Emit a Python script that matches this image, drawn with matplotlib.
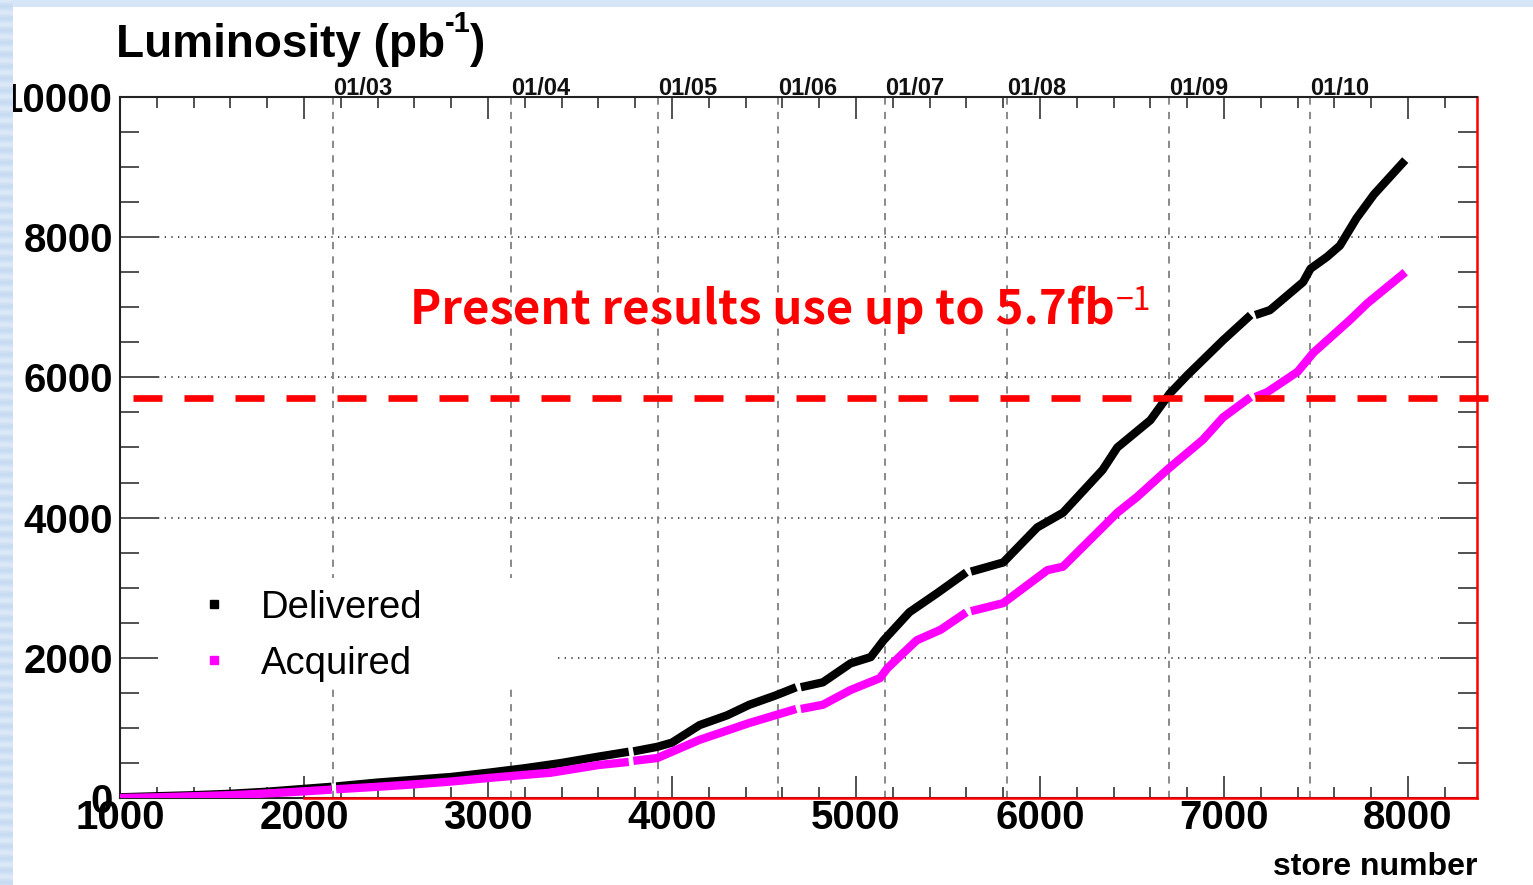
import numpy as np
import matplotlib
matplotlib.use("Agg")
import matplotlib.pyplot as plt
from matplotlib.ticker import MultipleLocator
from matplotlib.patches import Rectangle
from matplotlib.lines import Line2D

nan = np.nan

# Cumulative integrated luminosity (pb^-1) versus store number; nan marks shutdowns
delivered_store = [1000, 1200, 1400, 1600, 1800, 2000, 2150, 2162, 2175, 2400,
                   2600, 2800, 3000, 3200, 3400, 3600, 3765, 3778, 3790, 3920,
                   4000, 4150, 4300, 4420, 4560, 4675, 4688, 4700, 4820, 4970,
                   5080, 5150, 5290, 5440, 5600, 5613, 5625, 5800, 5985, 6125,
                   6340, 6420, 6600, 6705, 6800, 6995, 7145, 7157, 7170, 7250,
                   7430, 7470, 7560, 7630, 7720, 7815, 7985]
delivered_lumi = [10, 25, 40, 60, 90, 130, 160, nan, 165, 220,
                  260, 300, 360, 425, 500, 590, 660, nan, 665, 730,
                  790, 1040, 1180, 1330, 1460, 1580, nan, 1580, 1650, 1920,
                  2010, 2250, 2650, 2920, 3220, nan, 3230, 3360, 3860, 4070,
                  4680, 5000, 5390, 5770, 6030, 6530, 6890, nan, 6890, 6960,
                  7360, 7550, 7720, 7880, 8270, 8610, 9100]

acquired_store = [1000, 1200, 1400, 1600, 1800, 2000, 2150, 2162, 2175, 2400,
                  2600, 2800, 3000, 3200, 3340, 3600, 3765, 3778, 3790, 3920,
                  4150, 4420, 4675, 4688, 4700, 4820, 4970, 5130, 5170, 5330,
                  5460, 5600, 5613, 5625, 5800, 6040, 6125, 6420, 6530, 6690,
                  6885, 6995, 7145, 7157, 7170, 7235, 7400, 7485, 7685, 7780,
                  7985]
acquired_lumi = [0, 10, 25, 40, 65, 95, 120, nan, 125, 160,
                 195, 235, 285, 330, 360, 470, 515, nan, 530, 570,
                 830, 1070, 1270, nan, 1270, 1330, 1540, 1710, 1850, 2250,
                 2400, 2650, nan, 2665, 2780, 3250, 3300, 4070, 4300, 4680,
                 5110, 5430, 5720, nan, 5720, 5790, 6080, 6350, 6820, 7060,
                 7500]

# First store of each calendar year
year_store = [2160, 3125, 3925, 4575, 5160, 5820, 6700, 7470]
year_label = ["01/03", "01/04", "01/05", "01/06", "01/07", "01/08", "01/09", "01/10"]

used_lumi = 5700  # pb^-1 used by the present results
series_label = ["Delivered", "Acquired"]

W, H = 1533, 885
def fx(px):
    return px / W
def fy(py):
    return 1 - py / H

fig = plt.figure(figsize=(W / 100, H / 100), dpi=100)
fig.patch.set_facecolor("white")
ax = fig.add_axes([fx(120), fy(798), fx(1477) - fx(120), fy(97) - fy(798)])

ax.set_xlim(1000, 8375)
ax.set_ylim(0, 10000)

# frame and ticks
for side in ["left", "top", "bottom"]:
    ax.spines[side].set_color("#222222")
    ax.spines[side].set_linewidth(1.5)
ax.spines["right"].set_color("red")
ax.spines["right"].set_linewidth(1.8)

ax.xaxis.set_major_locator(MultipleLocator(1000))
ax.xaxis.set_minor_locator(MultipleLocator(200))
ax.yaxis.set_major_locator(MultipleLocator(2000))
ax.yaxis.set_minor_locator(MultipleLocator(500))
ax.tick_params(which="both", direction="in", top=True, right=True,
               color="#222222", width=1.1)
ax.tick_params(axis="x", which="major", length=16, pad=1)
ax.tick_params(axis="x", which="minor", length=8)
ax.tick_params(axis="y", which="major", length=27, pad=5.2)
ax.tick_params(axis="y", which="minor", length=14)
for lab in ax.get_xticklabels() + ax.get_yticklabels():
    lab.set_fontfamily("Liberation Sans")
    lab.set_fontweight("bold")
    lab.set_fontsize(29)

# grid: dotted horizontals at major y, dashed verticals at new years
for yv in [2000, 4000, 6000, 8000, 10000]:
    ax.axhline(yv, xmin=0.028, xmax=0.972, color="#333333", lw=1.2,
               ls=(0, (0.8, 3.2)), zorder=1)
for xs, lab in zip(year_store, year_label):
    ax.axvline(xs, color="#808080", lw=1.3, ls=(0, (4, 4)), zorder=1)
    ax.annotate(lab, xy=(xs, 1.0), xycoords=("data", "axes fraction"),
                xytext=(0, 1.5), textcoords="offset points",
                ha="left", va="baseline", fontsize=17,
                family="Liberation Sans", weight="bold", color="#111111")

# red frame segment along the bottom
ax.plot([0.1356, 1.0], [0, 0], transform=ax.transAxes, color="red",
        lw=1.8, clip_on=False, zorder=2.6)

# white legend box covering the grid
ax.add_patch(Rectangle((fx(158), fy(686)), fx(553) - fx(158), fy(578) - fy(686),
                       transform=fig.transFigure, facecolor="white",
                       edgecolor="none", zorder=1.6))

# data
ax.plot(delivered_store, delivered_lumi, color="black", lw=6,
        solid_capstyle="butt", solid_joinstyle="round", zorder=3)
ax.plot(acquired_store, acquired_lumi, color="#ff00ff", lw=6,
        solid_capstyle="butt", solid_joinstyle="round", zorder=4)

# threshold line
ax.axhline(used_lumi, xmin=0.0096, xmax=1.0147, color="red", lw=4.8,
           ls=(0, (4.35, 3.3)), clip_on=False, zorder=5)

# legend
for (py, col, lab) in [(604, "black", series_label[0]), (660, "#ff00ff", series_label[1])]:
    fig.add_artist(Line2D([fx(214)], [fy(py)], transform=fig.transFigure,
                          marker="s", markersize=6, color=col, ls="none"))
    fig.text(fx(261), fy(py), lab, ha="left", va="center_baseline",
             fontsize=27.5, family="Liberation Sans", color="black")

# annotation text
red_font = ["Noto Sans CJK JP", "DejaVu Sans"]
t = fig.text(fx(410), fy(324), "Present results use up to 5.7fb",
             ha="left", va="baseline", fontsize=34, weight="bold", color="red",
             family=red_font)
fig.add_artist(matplotlib.text.Annotation(
    "\u22121", xy=(1.0, 1.0), xycoords=t, xytext=(1, 0),
    textcoords="offset points", ha="left", va="top",
    fontsize=23, color="red", family=red_font))

# axis titles
title_kw = dict(family="Liberation Sans", weight="bold", color="black")
t1 = fig.text(fx(116), fy(57), "Luminosity (pb", ha="left", va="baseline",
              fontsize=33, **title_kw)
t2 = fig.add_artist(matplotlib.text.Annotation(
    "-1", xy=(1.0, 1.0), xycoords=t1, xytext=(0, 9),
    textcoords="offset points", ha="left", va="top", fontsize=21, **title_kw))
t3 = fig.add_artist(matplotlib.text.Annotation(
    ")", xy=(1.0, 0.0), xycoords=(t2, t1), xytext=(-1, 0),
    textcoords="offset points", ha="left", va="bottom", fontsize=33, **title_kw))

fig.text(fx(1477), fy(875), "store number", ha="right", va="baseline",
         fontsize=23, **title_kw)

# page decoration: light-blue top bar and striped left margin
top = fig.add_axes([0, fy(7), 1, 7 / H], zorder=10)
top.set_axis_off()
top.add_patch(Rectangle((0, 0), 1, 1, transform=top.transAxes,
                        facecolor="#d6e5f7", edgecolor="none"))
left = fig.add_axes([0, 0, 13 / W, 1], zorder=11)
left.set_axis_off()
rows = np.arange(H)
shade = 0.5 + 0.5 * np.cos(2 * np.pi * rows / 12.0)
c1 = np.array([0.86, 0.91, 0.97])
c2 = np.array([0.78, 0.86, 0.95])
img = (c1[None, :] * shade[:, None] + c2[None, :] * (1 - shade[:, None]))[:, None, :]
left.imshow(img, aspect="auto", extent=[0, 1, 0, 1], interpolation="bilinear")

fig.savefig("out.png", dpi=100)
